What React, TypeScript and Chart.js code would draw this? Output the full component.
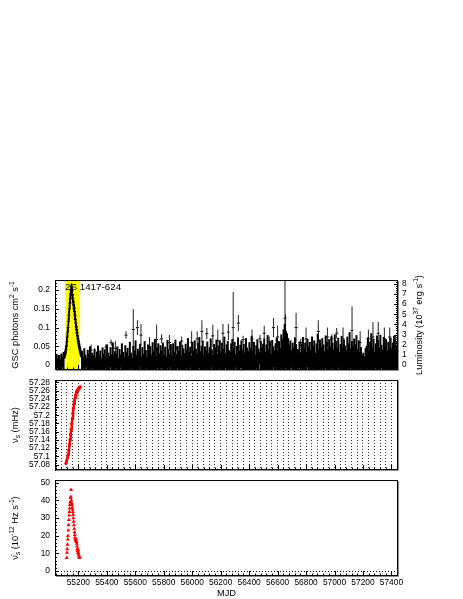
import React, { useEffect, useRef } from 'react';
import { Chart, registerables } from 'chart.js';

Chart.register(...registerables);

const FONT = '"Liberation Sans", Arial, Helvetica, sans-serif';
const W = 463;

// ---------- shared x axis (MJD)
const mjdMin = 55036;
const mjdMax = 57446;
const mjdTicks = [55200, 55400, 55600, 55800, 56000, 56200, 56400, 56600, 56800, 57000, 57200, 57400];
const mjdMajorStep = 200;
const mjdMinorStep = 40;
const mjdTitle = 'MJD';

// ---------- top panel: MAXI/GSC light curve
const sourceLabel = '2S 1417-624';
const outburstStart = 55107;
const outburstEnd = 55212;
const fluxMin = -0.013;
const fluxMax = 0.227;
const fluxTicks = [0, 0.05, 0.1, 0.15, 0.2];
const fluxStep = 0.05;
const fluxMinor = 0.01;
const lumPerFlux = 36.8; // 1e37 erg/s per GSC photons cm^-2 s^-1
const lumTicks = [0, 1, 2, 3, 4, 5, 6, 7, 8];
const lumStep = 1;
const lumMinor = 0.2;
const gscUnit = 0.001; // values below are in 1e-3 photons cm^-2 s^-1

// quiescent daily-binned mass: low / high end of each error bar
const gscMjd = [
  55040, 55048, 55056, 55064, 55072, 55080, 55088, 55096,
  55226, 55234, 55242, 55250, 55258, 55266, 55274, 55282, 55290, 55298,
  55306, 55314, 55322, 55330, 55338, 55346, 55354, 55362, 55370, 55378,
  55386, 55394, 55402, 55410, 55418, 55426, 55434, 55442, 55450, 55458,
  55466, 55474, 55482, 55490, 55498, 55506, 55514, 55522, 55530, 55538,
  55546, 55554, 55562, 55570, 55578, 55586, 55594, 55602, 55610, 55618,
  55626, 55634, 55642, 55650, 55658, 55666, 55674, 55682, 55690, 55698,
  55706, 55714, 55722, 55730, 55738, 55746, 55754, 55762, 55770, 55778,
  55786, 55794, 55802, 55810, 55818, 55826, 55834, 55842, 55850, 55858,
  55866, 55874, 55882, 55890, 55898, 55906, 55914, 55922, 55930, 55938,
  55946, 55954, 55962, 55970, 55978, 55986, 55994, 56002, 56010, 56018,
  56026, 56034, 56042, 56050, 56058, 56066, 56074, 56082, 56090, 56098,
  56106, 56114, 56122, 56130, 56138, 56146, 56154, 56162, 56170, 56178,
  56186, 56194, 56202, 56210, 56218, 56226, 56234, 56242, 56250, 56258,
  56266, 56274, 56282, 56290, 56298, 56306, 56314, 56322, 56330, 56338,
  56346, 56354, 56362, 56370, 56378, 56386, 56394, 56402, 56410, 56418,
  56426, 56434, 56442, 56450, 56458, 56466, 56474, 56482, 56490, 56498,
  56506, 56514, 56522, 56530, 56538, 56546, 56554, 56562, 56570, 56578,
  56586, 56594, 56602, 56610, 56618, 56626, 56634, 56642, 56650, 56658,
  56666, 56674, 56682, 56690, 56698, 56706, 56714, 56722, 56730, 56738,
  56746, 56754, 56762, 56770, 56778, 56786, 56794, 56802, 56810, 56818,
  56826, 56834, 56842, 56850, 56858, 56866, 56874, 56882, 56890, 56898,
  56906, 56914, 56922, 56930, 56938, 56946, 56954, 56962, 56970, 56978,
  56986, 56994, 57002, 57010, 57018, 57026, 57034, 57042, 57050, 57058,
  57066, 57074, 57082, 57090, 57098, 57106, 57114, 57122, 57130, 57138,
  57146, 57154, 57162, 57170, 57178, 57186, 57194, 57202, 57210, 57218,
  57226, 57234, 57242, 57250, 57258, 57266, 57274, 57282, 57290, 57298,
  57306, 57314, 57322, 57330, 57338, 57346, 57354, 57362, 57370, 57378,
  57386, 57394, 57402, 57410, 57418, 57426, 57434,
];
const gscHigh = [
  22, 30, 18, 27, 15, 31, 24, 35,
  38, 22, 45, 28, 19, 41, 30, 50, 24, 33,
  27, 44, 20, 36, 52, 25, 39, 18, 47, 30,
  42, 21, 55, 33, 24, 48, 29, 60, 26, 37,
  31, 50, 19, 43, 28, 58, 35, 22, 53, 34,
  46, 25, 62, 33, 20, 51, 38, 66, 27, 44,
  36, 57, 23, 48, 30, 64, 40, 21, 55, 33,
  50, 28, 61, 37, 70, 24, 47, 58, 31, 53,
  39, 60, 27, 49, 22, 67, 42, 30, 56, 26,
  58, 34, 68, 29, 51, 38, 63, 25, 54, 45,
  32, 57, 41, 72, 35, 49, 26, 62, 40, 66,
  44, 30, 59, 75, 37, 52, 65, 28, 50, 39,
  63, 33, 48, 71, 42, 27, 56, 46, 68, 31,
  52, 66, 36, 60, 43, 76, 32, 55, 64, 40,
  35, 58, 70, 44, 62, 29, 51, 74, 38, 54,
  66, 41, 57, 33, 72, 47, 37, 61, 45, 78,
  39, 62, 28, 53, 69, 44, 34, 65, 48, 57,
  71, 36, 55, 80, 42, 63, 30, 67, 50, 40,
  58, 73, 38, 64, 45, 82, 70, 95, 110, 92,
  85, 72, 55, 66, 40, 60, 47, 74, 56, 43,
  41, 63, 34, 57, 75, 45, 60, 36, 70, 50,
  62, 39, 76, 52, 66, 33, 58, 84, 44, 68,
  48, 72, 55, 37, 79, 61, 42, 69, 50, 77,
  60, 43, 82, 65, 46, 73, 35, 56, 78, 47,
  68, 52, 38, 76, 58, 88, 44, 64, 49, 71,
  55, 80, 42, 66, 34, 48, 26, 33, 22, 45,
  52, 74, 40, 63, 85, 47, 70, 36, 58, 79,
  67, 46, 81, 54, 41, 75, 50, 69, 38, 62,
  49, 73, 45, 60, 78, 43, 55,
];
const gscLow = [
  -12, -15, -8, -18, -10, -14, -6, -11,
  -14, -9, -17, -12, -6, -15, -11, -19, -8, -13,
  -10, -16, -7, -13, -18, -11, -15, -9, -14, -12,
  -17, -8, -13, -11, -16, -6, -14, -12, -18, -10,
  -9, -15, -12, -19, -7, -13, -16, -10, -14, -11,
  -13, -17, -10, -8, -15, -12, -18, -9, -14, -16,
  -11, -6, -15, -13, -18, -10, -14, -8, -16, -12,
  -15, -12, -9, -17, -11, -14, -7, -16, -13, -10,
  -8, -14, -18, -11, -15, -9, -13, -17, -6, -12,
  -16, -10, -13, -19, -8, -14, -11, -15, -12, -17,
  -12, -18, -9, -14, -16, -7, -13, -10, -17, -11,
  -14, -11, -16, -8, -13, -18, -10, -15, -9, -12,
  -10, -15, -12, -17, -6, -14, -19, -11, -13, -16,
  -17, -9, -14, -11, -15, -12, -8, -18, -10, -13,
  -13, -16, -10, -19, -12, -7, -15, -11, -17, -9,
  -9, -12, -18, -14, -10, -16, -13, -8, -15, -11,
  -15, -11, -13, -9, -17, -12, 2, -14, -10, -16,
  -11, -17, -8, -15, -13, -10, -18, -12, -6, -14,
  -16, -10, -14, -12, -18, -9, -13, -11, -15, -8,
  -12, -14, -17, -10, -7, -15, -11, -19, -13, -9,
  -14, -8, -12, -16, -11, -18, -10, -13, -6, -15,
  -10, -17, -13, -9, -15, -12, -19, -8, -14, -11,
  -18, -11, -15, -13, -8, -16, -10, -12, -17, -9,
  -13, -9, -16, -11, -14, -7, -18, -15, -10, -12,
  -11, -16, -9, -14, -12, -17, -8, -13, -15, -10,
  -15, -12, -18, -10, -13, -9, -16, -11, -14, -17,
  -9, -14, -11, -17, -10, -15, -12, -18, -8, -13,
  -16, -10, -13, -8, -15, -11, -17, -9, -14, -12,
  -12, -15, -9, -13, -11, -16, -10,
];

// outburst (value and error, 1e-3 units)
const outMjd = [
  55104, 55107, 55110, 55113, 55116, 55119, 55122, 55125, 55128, 55131,
  55134, 55137, 55140, 55143, 55146, 55149, 55152, 55155, 55158, 55161,
  55164, 55167, 55170, 55173, 55176, 55179, 55182, 55185, 55188, 55191,
  55194, 55197, 55200, 55203, 55206, 55209, 55212, 55215, 55218,
];
const outFlux = [
  25, 30, 35, 42, 50, 62, 75, 88, 100, 117,
  133, 150, 165, 178, 190, 200, 205, 198, 188, 177,
  168, 160, 152, 143, 133, 122, 112, 102, 94, 86,
  78, 70, 63, 57, 51, 46, 40, 35, 30,
];
const outErr = [
  8, 9, 8, 10, 9, 11, 10, 12, 11, 12,
  13, 12, 14, 13, 12, 14, 13, 12, 13, 12,
  11, 12, 11, 12, 11, 10, 11, 10, 11, 10,
  9, 10, 9, 10, 9, 10, 9, 10, 9,
];

// isolated bright points
const flareMjd = [
  55290, 55394, 55430, 55460, 55535, 55586, 55615, 55640, 55700, 55750,
  55785, 55840, 55891, 55926, 55996, 56035, 56068, 56103, 56145, 56180,
  56216, 56254, 56288, 56324, 56358, 56420, 56476, 56506, 56541, 56571,
  56600, 56652, 56656, 56730, 56763, 56800, 56886, 56950, 56981, 57015,
  57060, 57123, 57180, 57238, 57270, 57307, 57350, 57388, 57414, 57428,
];
const flareFlux = [
  40, 48, 60, 45, 80, 95, 100, 80, 50, 68,
  70, 60, 45, 64, 60, 70, 90, 84, 78, 65,
  85, 88, 100, 112, 68, 70, 70, 85, 64, 100,
  75, 125, 85, 100, 60, 70, 90, 75, 70, 85,
  70, 92, 60, 70, 75, 85, 70, 75, 50, 60,
];
const flareErr = [
  15, 8, 8, 20, 10, 55, 20, 30, 25, 40,
  12, 20, 6, 12, 30, 20, 30, 15, 30, 30,
  25, 22, 95, 22, 10, 25, 10, 20, 12, 26,
  30, 110, 50, 40, 10, 30, 30, 25, 12, 14,
  30, 65, 30, 25, 40, 30, 30, 25, 15, 20,
];

// ---------- middle panel: spin frequency (mHz)
const nuMin = 57.0671;
const nuMax = 57.2854;
const nuTicks = [57.08, 57.1, 57.12, 57.14, 57.16, 57.18, 57.2, 57.22, 57.24, 57.26, 57.28];
const nuStep = 0.02;
const nuMinor = 0.004;
const nuMjd = [
  55113, 55118, 55123, 55128, 55133, 55138, 55142, 55146, 55150, 55154,
  55158, 55162, 55166, 55170, 55174, 55178, 55182, 55186, 55190, 55194,
  55198, 55202, 55206, 55210, 55214,
];
const nuVal = [
  57.083, 57.089, 57.096, 57.104, 57.115, 57.128, 57.141, 57.153, 57.166, 57.179,
  57.192, 57.205, 57.217, 57.228, 57.236, 57.243, 57.249, 57.254, 57.258, 57.261,
  57.263, 57.265, 57.266, 57.268, 57.269,
];

// ---------- bottom panel: spin-up rate (1e-12 Hz/s)
const nudotMin = -2.75;
const nudotMax = 51.5;
const nudotTicks = [0, 10, 20, 30, 40, 50];
const nudotStep = 10;
const nudotMinor = 2;
const nudotMjd = [
  55118, 55120, 55122, 55124, 55126, 55127, 55129, 55131, 55133, 55135,
  55137, 55139, 55141, 55143, 55145, 55147, 55149, 55151, 55153, 55155,
  55157, 55159, 55161, 55163, 55165, 55167, 55169, 55171, 55173, 55175,
  55177, 55179, 55181, 55183, 55185, 55187, 55189, 55191, 55193, 55195,
  55197, 55199, 55201, 55203, 55205, 55207, 55209,
];
const nudotVal = [
  7.5, 10.5, 12.5, 15, 18, 20, 23, 26, 29, 31.5,
  33.5, 35.5, 37.5, 39, 41.5, 42, 46, 40, 38.5, 37.5,
  36, 35, 33.5, 32, 30, 28, 26, 24, 22, 20.5,
  19, 18, 17.5, 17, 18, 16.5, 15.5, 14, 12.5, 11.5,
  10.5, 12, 10, 9, 8, 7.5, 8,
];

// ---------- helpers
type Seg = { t: string; s?: 'sup' | 'sub' };

const titleFlux: Seg[] = [{ t: 'GSC photons cm' }, { t: '2', s: 'sup' }, { t: ' s' }, { t: '-1', s: 'sup' }];
const titleLum: Seg[] = [{ t: 'Luminosity (10' }, { t: '37', s: 'sup' }, { t: ' erg s' }, { t: '-1', s: 'sup' }, { t: ')' }];
const titleNu: Seg[] = [{ t: 'ν' }, { t: 's', s: 'sub' }, { t: ' (mHz)' }];
const titleNudot: Seg[] = [{ t: 'ν̇' }, { t: 's', s: 'sub' }, { t: ' (10' }, { t: '-12', s: 'sup' }, { t: ' Hz s' }, { t: '-1', s: 'sup' }, { t: ')' }];

function drawRich(ctx: CanvasRenderingContext2D, segs: Seg[], x: number, y: number, rot: number, size: number) {
  ctx.save();
  ctx.translate(x, y);
  ctx.rotate(rot);
  const fontFor = (s: Seg) => `${s.s ? size * 0.7 : size}px ${FONT}`;
  let total = 0;
  for (const s of segs) {
    ctx.font = fontFor(s);
    total += ctx.measureText(s.t).width;
  }
  let cx = -total / 2;
  ctx.textAlign = 'left';
  ctx.textBaseline = 'alphabetic';
  ctx.fillStyle = '#000';
  for (const s of segs) {
    ctx.font = fontFor(s);
    const dy = s.s === 'sup' ? -size * 0.42 : s.s === 'sub' ? size * 0.22 : 0;
    ctx.fillText(s.t, cx, dy + size * 0.36);
    cx += ctx.measureText(s.t).width;
  }
  ctx.restore();
}

function drawTicks(ctx: CanvasRenderingContext2D, scale: any, major: number, minor: number, side: string, a: any, majLen: number, minLen: number) {
  const k0 = Math.ceil(scale.min / minor - 1e-6);
  const k1 = Math.floor(scale.max / minor + 1e-6);
  ctx.beginPath();
  for (let k = k0; k <= k1; k++) {
    const v = k * minor;
    const r = v / major;
    const isMaj = Math.abs(r - Math.round(r)) < 1e-6;
    const len = isMaj ? majLen : minLen;
    const p = Math.round(scale.getPixelForValue(v)) + 0.5;
    if (side === 'bottom') {
      ctx.moveTo(p, a.bottom);
      ctx.lineTo(p, a.bottom - len);
    } else if (side === 'left') {
      ctx.moveTo(a.left, p);
      ctx.lineTo(a.left + len, p);
    } else {
      ctx.moveTo(a.right, p);
      ctx.lineTo(a.right - len, p);
    }
  }
  ctx.stroke();
}

const fmtNum = (v: any) => String(Number(Number(v).toFixed(3)));
const useTicks = (arr: number[]) => (s: any) => { s.ticks = arr.map((v) => ({ value: v })); };
const everyMinorMjd = (s: any) => {
  const t: any[] = [];
  for (let k = Math.ceil(s.min / mjdMinorStep); k * mjdMinorStep <= s.max; k++) t.push({ value: k * mjdMinorStep });
  s.ticks = t;
};

function decorPlugin(cfg: {
  yMajor: number; yMinor: number;
  right?: string; rMajor?: number; rMinor?: number;
  leftTitle: Seg[]; rightTitle?: Seg[];
  extra?: (ctx: CanvasRenderingContext2D, a: any) => void;
}) {
  return {
    id: 'decor',
    afterDraw(chart: any) {
      const { ctx, chartArea: a, scales } = chart;
      ctx.save();
      ctx.strokeStyle = '#000';
      ctx.lineWidth = 1;
      drawTicks(ctx, scales.x, mjdMajorStep, mjdMinorStep, 'bottom', a, 5, 2.5);
      drawTicks(ctx, scales.y, cfg.yMajor, cfg.yMinor, 'left', a, 4, 2);
      if (cfg.right) drawTicks(ctx, scales[cfg.right], cfg.rMajor!, cfg.rMinor!, 'right', a, 4, 2);
      ctx.strokeRect(a.left + 0.5, a.top + 0.5, a.right - a.left - 1, a.bottom - a.top - 1);
      ctx.strokeStyle = '#8c8c8c';
      ctx.beginPath();
      ctx.moveTo(a.right + 0.5, a.top + 1);
      ctx.lineTo(a.right + 0.5, a.bottom + 0.5);
      ctx.lineTo(a.left + 1, a.bottom + 0.5);
      ctx.stroke();
      const cy = (a.top + a.bottom) / 2;
      drawRich(ctx, cfg.leftTitle, 15, cy, -Math.PI / 2, 9.3);
      if (cfg.rightTitle) drawRich(ctx, cfg.rightTitle, 419, cy, -Math.PI / 2, 9.3);
      if (cfg.extra) cfg.extra(ctx, a);
      ctx.restore();
    },
  };
}

const bandPlugin = {
  id: 'band',
  beforeDatasetsDraw(chart: any) {
    const { ctx, chartArea: a, scales } = chart;
    const x1 = scales.x.getPixelForValue(outburstStart);
    const x2 = scales.x.getPixelForValue(outburstEnd);
    ctx.save();
    ctx.fillStyle = '#ffff00';
    ctx.fillRect(x1, a.top, x2 - x1, a.bottom - a.top);
    ctx.restore();
  },
};

const tickFont = { family: FONT, size: 8.4 };

function xScale(height: number, extra: any = {}) {
  return {
    type: 'linear',
    min: mjdMin,
    max: mjdMax,
    bounds: 'data',
    offset: false,
    afterFit: (s: any) => { s.height = height; },
    afterBuildTicks: useTicks(mjdTicks),
    ticks: { display: false },
    grid: { display: false, drawTicks: false, offset: false },
    border: { display: false },
    ...extra,
  };
}

function yScale(min: number, max: number, ticks: number[], width: number, position: string, padding: number, extra: any = {}) {
  return {
    type: 'linear',
    position,
    min,
    max,
    bounds: 'data',
    afterFit: (s: any) => { s.width = width; },
    afterBuildTicks: useTicks(ticks),
    ticks: { autoSkip: false, padding, color: '#000', font: tickFont, callback: fmtNum },
    grid: { display: false, drawTicks: false },
    border: { display: false },
    ...extra,
  };
}

const baseOptions = {
  responsive: false,
  animation: false,
  devicePixelRatio: 1,
  events: [],
  plugins: { legend: { display: false }, tooltip: { enabled: false } },
};

function topConfig(): any {
  const massBars = gscMjd.map((m, i) => ({ x: m, y: [gscLow[i] * gscUnit, gscHigh[i] * gscUnit] }));
  const outBars = outMjd.map((m, i) => ({ x: m, y: [(outFlux[i] - outErr[i]) * gscUnit, (outFlux[i] + outErr[i]) * gscUnit] }));
  const flareBars = flareMjd.map((m, i) => ({ x: m, y: [(flareFlux[i] - flareErr[i]) * gscUnit, (flareFlux[i] + flareErr[i]) * gscUnit] }));
  const centers = [
    ...outMjd.map((m, i) => ({ x: m, y: outFlux[i] * gscUnit })),
    ...flareMjd.map((m, i) => ({ x: m, y: flareFlux[i] * gscUnit })),
  ];
  const barStyle = { type: 'bar', backgroundColor: '#000', borderWidth: 0, barThickness: 1, inflateAmount: 0, grouped: false };
  return {
    type: 'bar',
    data: {
      datasets: [
        { ...barStyle, label: 'GSC', data: massBars, barThickness: 2 },
        { ...barStyle, label: 'outburst', data: outBars, barThickness: 1.5 },
        { ...barStyle, label: 'flares', data: flareBars, backgroundColor: '#222' },
        { type: 'scatter', label: 'centres', data: centers, pointStyle: 'line', pointRadius: 1.5, borderColor: '#000', borderWidth: 1, showLine: false },
      ],
    },
    options: {
      ...baseOptions,
      layout: { padding: { top: 8, left: 0, right: 0, bottom: 0 } },
      scales: {
        x: xScale(4),
        y: yScale(fluxMin, fluxMax, fluxTicks, 55, 'left', 5),
        lum: yScale(fluxMin * lumPerFlux, fluxMax * lumPerFlux, lumTicks, 65, 'right', 4),
      },
    },
    plugins: [
      bandPlugin,
      decorPlugin({
        yMajor: fluxStep, yMinor: fluxMinor, right: 'lum', rMajor: lumStep, rMinor: lumMinor,
        leftTitle: titleFlux, rightTitle: titleLum,
        extra: (ctx, a) => {
          ctx.font = `9.8px ${FONT}`;
          ctx.fillStyle = '#000';
          ctx.textAlign = 'left';
          ctx.textBaseline = 'middle';
          ctx.fillText(sourceLabel, a.left + 10, a.top + 7.5);
        },
      }),
    ],
  };
}

function midConfig(): any {
  return {
    type: 'scatter',
    data: {
      datasets: [{
        label: 'nu',
        data: nuMjd.map((m, i) => ({ x: m, y: nuVal[i] })),
        showLine: true,
        borderColor: '#ff0000',
        borderWidth: 2.5,
        pointRadius: 1.6,
        pointBackgroundColor: '#ff0000',
        pointBorderWidth: 0,
      }],
    },
    options: {
      ...baseOptions,
      layout: { padding: { top: 8, left: 0, right: 65, bottom: 0 } },
      scales: {
        x: xScale(5, {
          afterBuildTicks: everyMinorMjd,
          grid: { display: true, drawTicks: false, offset: false, color: '#333', lineWidth: 1 },
          border: { display: false, dash: [1, 2] },
        }),
        y: yScale(nuMin, nuMax, nuTicks, 55, 'left', 5),
      },
    },
    plugins: [decorPlugin({ yMajor: nuStep, yMinor: nuMinor, leftTitle: titleNu })],
  };
}

function botConfig(): any {
  return {
    type: 'scatter',
    data: {
      datasets: [{
        label: 'nudot',
        data: nudotMjd.map((m, i) => ({ x: m, y: nudotVal[i] })),
        pointStyle: 'triangle',
        pointRadius: 2.3,
        backgroundColor: '#ff0000',
        borderColor: '#ff0000',
        borderWidth: 0,
      }],
    },
    options: {
      ...baseOptions,
      layout: { padding: { top: 7, left: 0, right: 65, bottom: 0 } },
      scales: {
        x: xScale(23, {
          ticks: {
            display: true, autoSkip: false,
            maxRotation: 0, minRotation: 0, padding: 2, color: '#000', font: tickFont,
            callback: (v: any) => String(v),
          },
        }),
        y: yScale(nudotMin, nudotMax, nudotTicks, 55, 'left', 5, {
          grid: {
            display: true, drawTicks: false, lineWidth: 1,
            color: (c: any) => (c.tick && c.tick.value === 0 ? '#000' : 'rgba(0,0,0,0)'),
          },
          border: { display: false, dash: [1, 2] },
        }),
      },
    },
    plugins: [decorPlugin({
      yMajor: nudotStep, yMinor: nudotMinor, leftTitle: titleNudot,
      extra: (ctx, a) => {
        ctx.font = `9.3px ${FONT}`;
        ctx.fillStyle = '#000';
        ctx.textAlign = 'center';
        ctx.textBaseline = 'middle';
        ctx.fillText(mjdTitle, (a.left + a.right) / 2, a.bottom + 17.5);
      },
    })],
  };
}

export default function App() {
  const r1 = useRef<HTMLCanvasElement>(null);
  const r2 = useRef<HTMLCanvasElement>(null);
  const r3 = useRef<HTMLCanvasElement>(null);
  useEffect(() => {
    const charts = [
      new Chart(r1.current as HTMLCanvasElement, topConfig()),
      new Chart(r2.current as HTMLCanvasElement, midConfig()),
      new Chart(r3.current as HTMLCanvasElement, botConfig()),
    ];
    return () => charts.forEach((c) => c.destroy());
  }, []);
  const cv = (ref: any, top: number, h: number) => (
    <canvas ref={ref} width={W} height={h} style={{ position: 'absolute', left: 0, top, width: W, height: h, display: 'block' }} />
  );
  return (
    <div style={{ position: 'fixed', left: 0, top: 0, width: W, height: 599, background: '#fff', overflow: 'hidden' }}>
      {cv(r1, 270, 110)}
      {cv(r2, 370, 110)}
      {cv(r3, 470, 129)}
    </div>
  );
}
